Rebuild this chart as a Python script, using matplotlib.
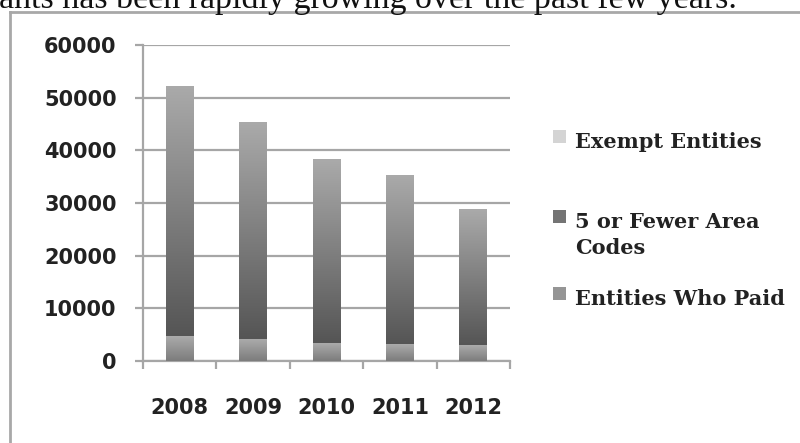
import numpy as np
import matplotlib
matplotlib.use("Agg")
import matplotlib.pyplot as plt
from matplotlib.colors import LinearSegmentedColormap
from matplotlib.patches import Rectangle
from matplotlib.lines import Line2D

years = ["2008", "2009", "2010", "2011", "2012"]
entities_paid = [4700, 4100, 3400, 3200, 3000]
few_area_codes = [47400, 41200, 34800, 32000, 25800]
exempt_entities = [0, 0, 0, 0, 0]
series_names = ["Exempt Entities", "5 or Fewer Area\nCodes", "Entities Who Paid"]

W, H = 800, 443
fig = plt.figure(figsize=(W / 100, H / 100), dpi=100)

# page text above the chart frame (cut off at the top)
fig.text(737 / W, 1 - 8 / H, "ants has been rapidly growing over the past few years.",
         ha="right", va="baseline", fontsize=24.5, family="Liberation Serif", color="#111111")

# chart frame
frame_col = "#a8a8a8"
fig.add_artist(Line2D([10 / W, 10 / W], [0, 1 - 12 / H], color=frame_col, lw=2))
fig.add_artist(Line2D([10 / W, 1], [1 - 12 / H, 1 - 12 / H], color=frame_col, lw=2))

ax = fig.add_axes([143 / W, 1 - 361 / H, 367 / W, 316 / H])

grid_col = "#a6a6a6"
x = np.arange(len(years))
bw = 0.38
grad = np.linspace(0, 1, 256).reshape(-1, 1)
cm_dark = LinearSegmentedColormap.from_list("dark", ["#555555", "#aaaaaa"])
cm_low = LinearSegmentedColormap.from_list("low", ["#7c7c7c", "#ababab"])
cm_top = LinearSegmentedColormap.from_list("top", ["#c4c4c4", "#e4e4e4"])

def gradient_bar(xc, bottom, height, cmap):
    if height <= 0:
        return
    ax.imshow(grad, extent=(xc - bw / 2, xc + bw / 2, bottom, bottom + height),
              origin="lower", cmap=cmap, aspect="auto", zorder=3, interpolation="bilinear")

for i in range(len(years)):
    b0 = entities_paid[i]
    b1 = b0 + few_area_codes[i]
    gradient_bar(x[i], 0, entities_paid[i], cm_low)
    gradient_bar(x[i], b0, few_area_codes[i], cm_dark)
    gradient_bar(x[i], b1, exempt_entities[i], cm_top)

ax.set_xlim(-0.5, len(years) - 0.5)
ax.set_ylim(0, 60000)
ax.set_yticks(np.arange(0, 60001, 10000))
ax.yaxis.grid(True, color=grid_col, lw=1.6, zorder=0)
ax.set_axisbelow(True)

for s in ["top", "right"]:
    ax.spines[s].set_visible(False)
for s in ["left", "bottom"]:
    ax.spines[s].set_color(grid_col)
    ax.spines[s].set_linewidth(1.6)

ax.set_xticks(x)
ax.set_xticklabels(years)
ax.set_xticks(np.arange(-0.5, len(years)), minor=True)
ax.tick_params(axis="x", which="major", length=0, pad=27)
ax.tick_params(axis="x", which="minor", length=6, width=1.6, color=grid_col, direction="out")
ax.tick_params(axis="y", length=6, width=1.6, color=grid_col, direction="out", pad=13)
for lab in ax.get_xticklabels() + ax.get_yticklabels():
    lab.set_fontsize(15)
    lab.set_fontweight("bold")
    lab.set_color("#222222")

# legend drawn beside the plot
legend_y = [140, 220, 297]
legend_cols = ["#d4d4d4", "#747474", "#959595"]
for name, yc, col in zip(series_names, legend_y, legend_cols):
    fig.add_artist(Rectangle((553 / W, 1 - (yc + 3) / H), 13 / W, 13 / H,
                             facecolor=col, edgecolor="none"))
    fig.text(575 / W, 1 - (yc - 8) / H, name, ha="left", va="top", fontsize=15,
             family="DejaVu Serif", fontweight="bold", color="#222222", linespacing=1.35)

fig.savefig("out.png", dpi=100)
